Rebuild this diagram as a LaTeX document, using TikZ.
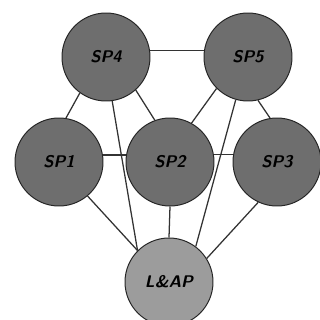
\documentclass[tikz,border=0pt]{standalone}
\usepackage{xcolor}
\usepackage{tikz}
\usetikzlibrary{shapes.geometric, positioning, calc}

\definecolor{spgray}{HTML}{6E6E6E}
\definecolor{lapgray}{HTML}{9C9C9C}

\begin{document}
\begin{tikzpicture}[
    station/.style={circle, draw=black!85, line width=0.7pt, fill=spgray, minimum size=2.2cm, inner sep=0pt, font=\sffamily\bfseries\itshape\large},
    hub/.style={station, fill=lapgray},
    link/.style={line width=0.9pt, black!80}
]

\useasboundingbox (0, 0) rectangle (8, -8);

% Stations
\node[station] (sp4) at (2.65, -1.425) {SP4};
\node[station] (sp5) at (6.2, -1.425) {SP5};
\node[station] (sp1) at (1.475, -4.05) {SP1};
\node[station] (sp2) at (4.25, -4.05) {SP2};
\node[station] (sp3) at (6.925, -4.05) {SP3};
\node[hub] (lap) at (4.225, -7.05) {L\&AP};

% Links
\draw[link] (sp4.8) -- (sp5.172);
\draw[link] (sp4.234) -- (sp1.81);
\draw[link] (sp4.-48) -- (sp2.110);
\draw[link] (sp4.-82) -- (lap.135);
\draw[link] (sp5.225) -- (sp2.61);
\draw[link] (sp5.-77) -- (sp3.99);
\draw[link] (sp5.-106) -- (lap.53);
\draw[link] (sp1.9) -- (sp2.171);
\draw[link] (sp2.10) -- (sp3.170);
\draw[link] (sp1.-50) -- (lap.135);
\draw[link] (sp2.south) -- (lap.north);
\draw[link] (sp3.245) -- (lap.32);

\end{tikzpicture}
\end{document}
